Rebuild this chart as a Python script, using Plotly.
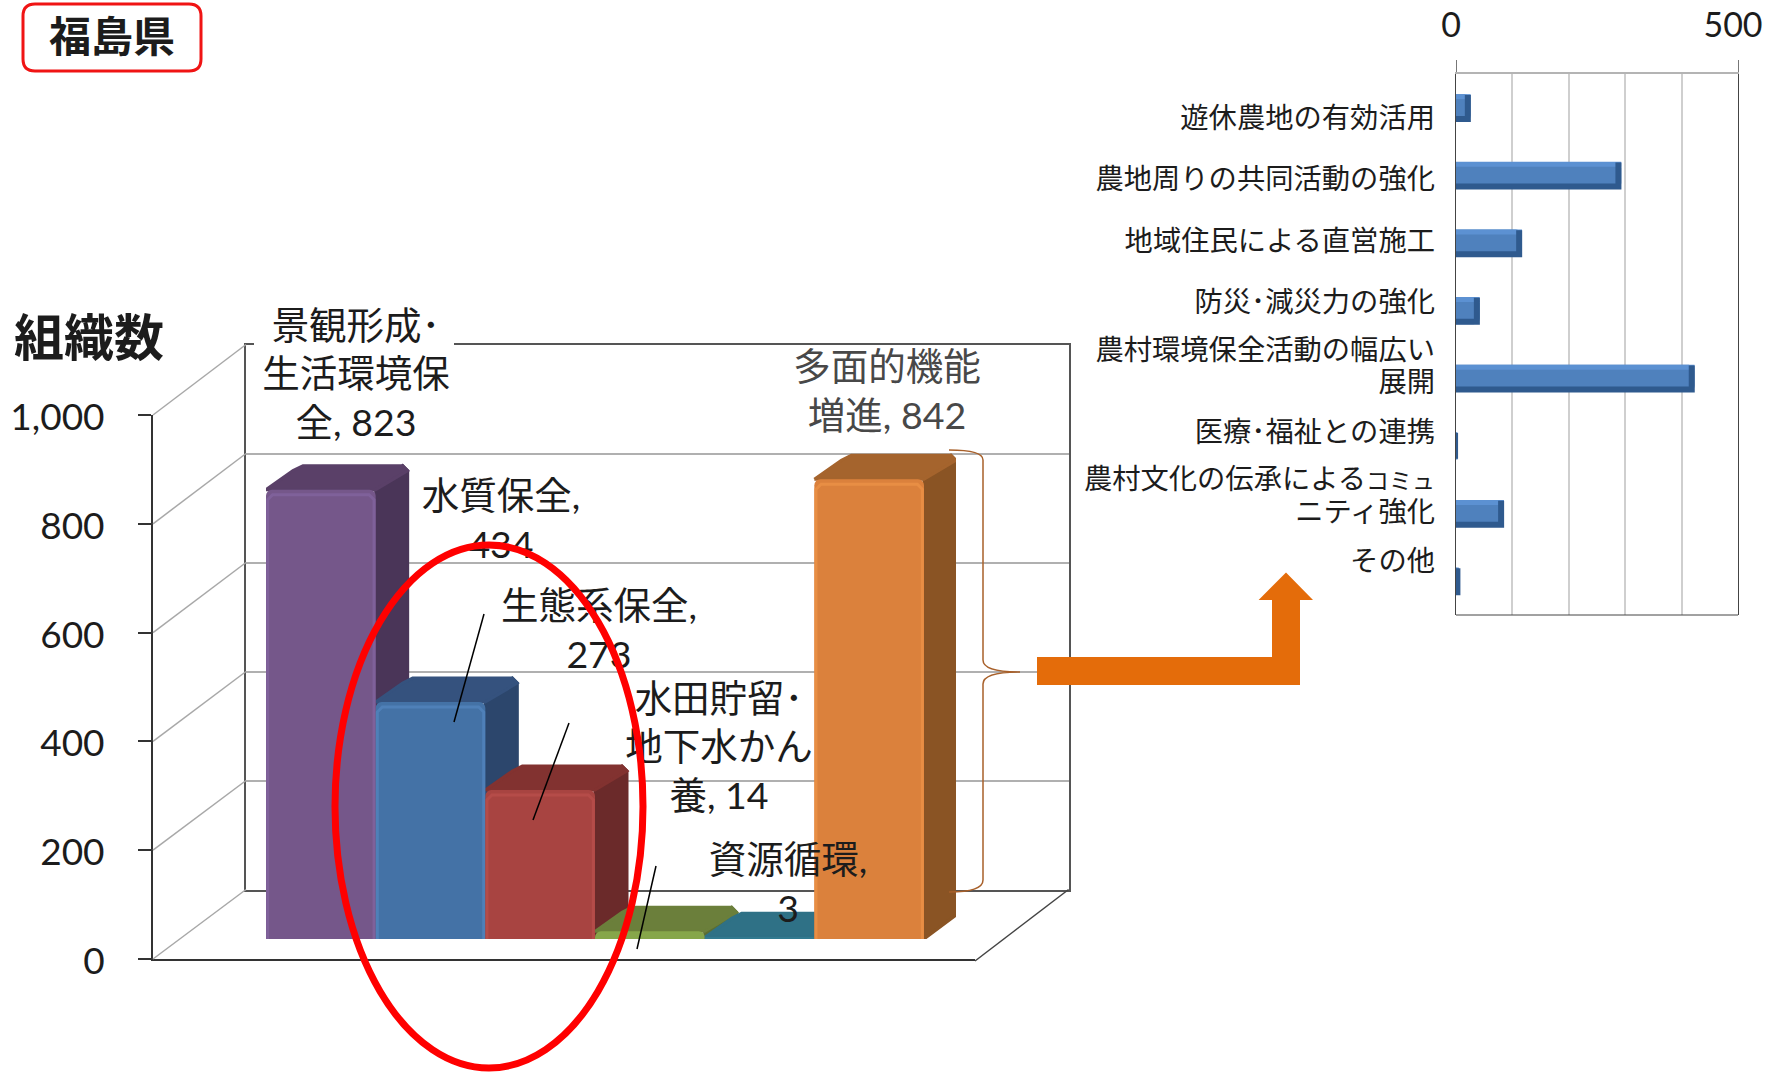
import plotly.graph_objects as go

# main chart
bar_values = [823, 434, 273, 14, 3, 842]
bar_label_lines = [
    ["景観形成･", "生活環境保", "全, "],
    ["水質保全,", ""],
    ["生態系保全,", ""],
    ["水田貯留･", "地下水かん", "養, "],
    ["資源循環,", ""],
    ["多面的機能", "増進, "],
]
bar_front = ["#75578A", "#4472A6", "#A84441", "#86A64A", "#327A90", "#DB813C"]
bar_top = ["#5A4068", "#35527E", "#823230", "#6B7F3B", "#2F7186", "#A5642D"]
bar_side = ["#4A3558", "#2C466C", "#6B2A2A", "#5C6E32", "#285F72", "#8A5424"]
bar_hi = ["#7F619A", "#4F80B8", "#B54C49", "#9ABD58", "#3F90A8", "#E88E44"]
axis_ticks = [0, 200, 400, 600, 800, 1000]

# breakdown chart
detail_name_lines = [
    ["遊休農地の有効活用"], ["農地周りの共同活動の強化"], ["地域住民による直営施工"],
    ["防災･減災力の強化"], ["農村環境保全活動の幅広い", "展開"], ["医療･福祉との連携"],
    ['農村文化の伝承による<span style="font-size:23px">コミュ</span>', "ニティ強化"], ["その他"],
]
detail_values = [26, 293, 117, 42, 423, 2, 85, 5]

W, H = 1765, 1072
CJK = "Lato, 'Noto Sans CJK JP'"
INK = "#1c1c1c"


def dom_x(a, b):
    return [a / W, b / W]


def dom_y(top, bottom):
    return [1 - bottom / H, 1 - top / H]


fig = go.Figure()

# axes with no marks of their own still need a trace or plotly drops them
fig.add_trace(go.Scatter(x=[0], y=[0], xaxis="x", yaxis="y", mode="none", hoverinfo="skip"))
fig.add_trace(go.Scatter(x=[0], y=[0], xaxis="x2", yaxis="y2", mode="none", hoverinfo="skip"))

# bar depth and corner cut, in axis units
dx = 32 / 109.67
dy = 24 / 0.546
cx = 5 / 109.67
cy = 5 / 0.546

# sides and tops go underneath the front faces
for i, v in enumerate(bar_values):
    l, r = i - 0.5, i + 0.5
    fig.add_trace(go.Scatter(
        x=[r, r + dx, r + dx, r + dx - cx, r, r],
        y=[0, dy, v + dy - cy, v + dy, v, 0], xaxis="x3", yaxis="y3",
        mode="lines", fill="toself", fillcolor=bar_side[i],
        line=dict(color=bar_side[i], width=3), hoverinfo="skip"))
    fig.add_trace(go.Scatter(
        x=[l, l + dx - cx, l + dx + cx, r + dx - cx, r + dx, r, l],
        y=[v, v + dy - cy, v + dy, v + dy, v + dy - cy, v, v], xaxis="x3", yaxis="y3",
        mode="lines", fill="toself", fillcolor=bar_top[i],
        line=dict(color=bar_top[i], width=3), hoverinfo="skip"))

fig.add_trace(go.Bar(
    x=list(range(6)), y=bar_values, width=1, xaxis="x4", yaxis="y4",
    marker=dict(color=bar_front, line=dict(width=0)), hoverinfo="skip"))

# bevel highlight on the front faces
for i, v in enumerate(bar_values):
    if v < 100:
        continue
    a, b = i - 0.485, i + 0.485
    fig.add_trace(go.Scatter(
        x=[a, a, a + cx, b - cx, b, b], y=[0, v - 2 * cy, v - cy, v - cy, v - 2 * cy, 0],
        xaxis="x4", yaxis="y4", mode="lines",
        line=dict(color=bar_hi[i], width=3), hoverinfo="skip"))

# breakdown bars
rows = list(range(len(detail_values)))
fig.add_trace(go.Bar(
    x=detail_values, y=rows, orientation="h", width=0.4, xaxis="x5", yaxis="y5",
    marker=dict(color="#4F81BD", line=dict(width=0)), hoverinfo="skip"))
for y0, v in zip(rows, detail_values):
    end = max(v - 5, v / 2)  # keep the dark bevel stroke inside the bar
    fig.add_trace(go.Scatter(
        x=[0, v], y=[y0 - 0.165, y0 - 0.165], xaxis="x5", yaxis="y5", mode="lines",
        line=dict(color="#5C91D2", width=5), hoverinfo="skip"))
    fig.add_trace(go.Scatter(
        x=[0, end, end], y=[y0 + 0.165, y0 + 0.165, y0 - 0.19], xaxis="x5", yaxis="y5", mode="lines",
        line=dict(color="#2F5A8E", width=min(6, 1 + v)), hoverinfo="skip"))

# pixel overlay: side wall diagonals, white patch behind the first label, labels
diag_x, diag_y = [], []
for v in axis_ticks:
    diag_x += [153, 246, None]
    diag_y += [959 - v * 0.544, 889.5 - v * 0.545, None]
fig.add_trace(go.Scatter(x=diag_x, y=diag_y, xaxis="x6", yaxis="y6", mode="lines",
                         line=dict(color="#a8a8a8", width=1.5), hoverinfo="skip"))
fig.add_trace(go.Scatter(x=[975, 1068.6], y=[961, 889.5], xaxis="x6", yaxis="y6", mode="lines",
                         line=dict(color="#444444", width=1.5), hoverinfo="skip"))
fig.add_trace(go.Scatter(x=[254, 454, 454, 254, 254], y=[338, 338, 351, 351, 338],
                         xaxis="x6", yaxis="y6", mode="lines", fill="toself",
                         fillcolor="white", line=dict(width=0), hoverinfo="skip"))

bar_labels = ["<br>".join(lines) + str(v) for lines, v in zip(bar_label_lines, bar_values)]
label_x = [356, 501, 599, 719, 788, 887]
label_y = [378, 524, 634, 751, 888, 395]
label_colors = [INK, INK, INK, INK, INK, "#484848"]
fig.add_trace(go.Scatter(
    x=label_x, y=label_y, xaxis="x6", yaxis="y6", mode="text", text=bar_labels,
    textposition="middle center",
    textfont=dict(family=CJK, size=37.5, color=label_colors), hoverinfo="skip"))

# each line of a name placed on its own so the line pitch can follow the picture
name_y = [[121], [182], [244], [305], [353, 385], [435], [482, 515], [564]]
name_text, name_pos = [], []
for lines, ys in zip(detail_name_lines, name_y):
    name_text += lines
    name_pos += ys
fig.add_trace(go.Scatter(
    x=[1435] * len(name_text), y=name_pos, xaxis="x6", yaxis="y6", mode="text",
    text=name_text, textposition="middle left",
    textfont=dict(family=CJK, size=28.3, color=INK), hoverinfo="skip"))

hidden = dict(visible=False, fixedrange=True)
fig.update_layout(
    width=W, height=H, margin=dict(l=0, r=0, t=0, b=0, autoexpand=False), showlegend=False,
    paper_bgcolor="white", plot_bgcolor="rgba(0,0,0,0)", barcornerradius=6,
    font=dict(family=CJK, color=INK),
    # front axis
    xaxis=dict(domain=dom_x(153, 975), range=[0, 1], showline=True, linecolor="#333333",
               linewidth=2, showticklabels=False, showgrid=False, zeroline=False, anchor="y"),
    yaxis=dict(domain=dom_y(415, 959), range=[0, 1000], tickvals=axis_ticks, tickformat=",",
               ticks="outside", ticklen=13, tickcolor="#333333", tickwidth=2, showline=True,
               linecolor="#333333", linewidth=2, showgrid=False, zeroline=False,
               ticklabelstandoff=26, ticklabelshift=2,
               tickfont=dict(family="Lato", size=37, color=INK), anchor="x"),
    # back wall
    xaxis2=dict(domain=dom_x(246, 1068.6), range=[0, 1], showline=True, mirror=True,
                linecolor="#555555", linewidth=1.5, showticklabels=False, showgrid=False,
                zeroline=False, anchor="y2"),
    yaxis2=dict(domain=dom_y(344.6, 889.5), range=[0, 1000], tickvals=axis_ticks,
                showline=True, mirror=True, linecolor="#555555", linewidth=1.5,
                showticklabels=False, gridcolor="#b0b0b0", gridwidth=1.5, zeroline=False,
                anchor="x2"),
    # side and top faces (range runs on past the last bar to fit the depth)
    xaxis3=dict(hidden, domain=dom_x(266, 924 + 32), range=[-0.5, 5.5 + dx], anchor="y3"),
    yaxis3=dict(hidden, domain=dom_y(939 - 546 - 24, 939), range=[0, 1000 + dy], anchor="x3"),
    # front faces
    xaxis4=dict(hidden, domain=dom_x(266, 924), range=[-0.5, 5.5], anchor="y4"),
    yaxis4=dict(hidden, domain=dom_y(939 - 546, 939), range=[0, 1000], anchor="x4"),
    # breakdown
    xaxis5=dict(domain=dom_x(1456, 1738), range=[0, 500], side="top", tickvals=[0, 500],
                ticks="outside", ticklen=12, tickcolor="#777777", showline=True,
                linecolor="#b4b4b4", linewidth=1.5, gridcolor="#cfcfcf", gridwidth=1.5,
                zeroline=False,
                minor=dict(dtick=100, showgrid=True, gridcolor="#cfcfcf", gridwidth=1.5, ticks=""),
                ticklabelstandoff=10, ticklabelshift=-5, ticklabeloverflow="allow",
                tickfont=dict(family="Lato", size=34, color=INK), anchor="y5"),
    yaxis5=dict(domain=dom_y(74, 615), range=[7.5, -0.5], showline=True, mirror=True,
                linecolor="#444444", showticklabels=False, showgrid=False, zeroline=False,
                ticks="", anchor="x5"),
    # pixel overlay for labels
    xaxis6=dict(hidden, domain=[0, 1], range=[0, W], anchor="y6"),
    yaxis6=dict(hidden, domain=[0, 1], range=[H, 0], anchor="x6"),
    shapes=[
        dict(type="line", xref="x5", yref="y5 domain", x0=0, x1=500, y0=0, y1=0,
             line=dict(color="#444444", width=1)),
        # title box
        dict(type="path", xref="x6", yref="y6", line=dict(color="#f01414", width=3),
             path="M 35 4 L 189 4 Q 201 4 201 16 L 201 59 Q 201 71 189 71 L 35 71 "
                  "Q 23 71 23 59 L 23 16 Q 23 4 35 4 Z"),
        # leader lines
        dict(type="line", xref="x6", yref="y6", x0=484, y0=614, x1=454, y1=722,
             line=dict(color="black", width=1.5)),
        dict(type="line", xref="x6", yref="y6", x0=569, y0=723, x1=533, y1=820,
             line=dict(color="black", width=1.5)),
        dict(type="line", xref="x6", yref="y6", x0=656, y0=866, x1=637, y1=949,
             line=dict(color="black", width=1.5)),
        # brace
        dict(type="path", xref="x6", yref="y6", line=dict(color="#A8602A", width=1.5),
             path="M 949 450 Q 983 450 983 460 L 983 660 Q 983 672 1020 672 "
                  "Q 983 672 983 684 L 983 880 Q 983 892 949 892"),
        # arrow
        dict(type="path", xref="x6", yref="y6", fillcolor="#E46C0A", line=dict(width=0),
             path="M 1037 657 L 1272 657 L 1272 600 L 1258.6 600 L 1286 572.4 L 1313 600 "
                  "L 1300 600 L 1300 685 L 1037 685 Z"),
        # red ellipse
        dict(type="circle", xref="x6", yref="y6", x0=335, x1=643, y0=545, y1=1068,
             line=dict(color="#ff0000", width=7)),
    ],
    annotations=[
        dict(text="<b>福島県</b>", xref="x6", yref="y6", x=112, y=33, showarrow=False,
             font=dict(family="'Noto Sans CJK JP'", size=42, color=INK)),
        dict(text="<b>組織数</b>", xref="x6", yref="y6", x=89, y=334, showarrow=False,
             font=dict(family="'Noto Sans CJK JP'", size=50, color=INK)),
    ],
)

fig.write_html("out.html", config={"displayModeBar": False},
               post_script="document.body.style.margin='0';")
